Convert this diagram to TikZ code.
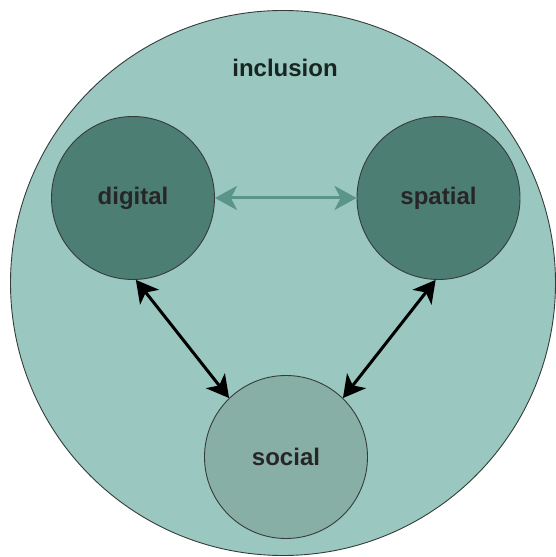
\documentclass[tikz,border=0pt]{standalone}
\usepackage{fontspec}
\setmainfont{Liberation Sans}
\usetikzlibrary{arrows.meta,positioning}
\definecolor{cOuter}{HTML}{9AC7BF}
\definecolor{cDark} {HTML}{4D7E74}
\definecolor{cSoc}  {HTML}{88AFA6}
\definecolor{cLink} {HTML}{5B9488}
\definecolor{cEdge} {HTML}{353D3B}
\tikzset{
  dom/.style  ={circle,draw=cEdge,line width=0.9pt,minimum size=163pt,inner sep=0pt,
                font=\fontsize{24}{26}\selectfont\bfseries,text=black!85},
  dark/.style ={dom,fill=cDark},
  soc/.style  ={dom,fill=cSoc},
  lnk/.style  ={{Stealth[length=22pt,width=24pt,inset=6pt]}-{Stealth[length=22pt,width=24pt,inset=6pt]},
                line width=3pt,draw=black},
}

\begin{document}
\begin{tikzpicture}[x=1pt, y=1pt]
\useasboundingbox (0,0) rectangle (555,557);

% ---- the enclosing domain -------------------------------------------------
\node[circle,draw=cEdge,line width=0.9pt,fill=cOuter,minimum size=545pt,inner sep=0pt]
  (incl) at (283,274) {};
\node[font=\fontsize{24}{26}\selectfont\bfseries,text=black!70!cDark] (inclLbl) at (285,489) {inclusion};

% ---- the three parts ------------------------------------------------------
\node[dark] (digital) at (133,359)   {digital};
\node[dark] (spatial) at (438.5,359) {spatial};
\node[soc]  (social)  at (286,100)   {social};

% ---- links ----------------------------------------------------------------
\draw[lnk,draw=cLink] (digital.east) -- (spatial.west);
\draw[lnk] (digital.-88) -- (social.134);
\draw[lnk] (spatial.-92) -- (social.46);
\end{tikzpicture}
\end{document}
